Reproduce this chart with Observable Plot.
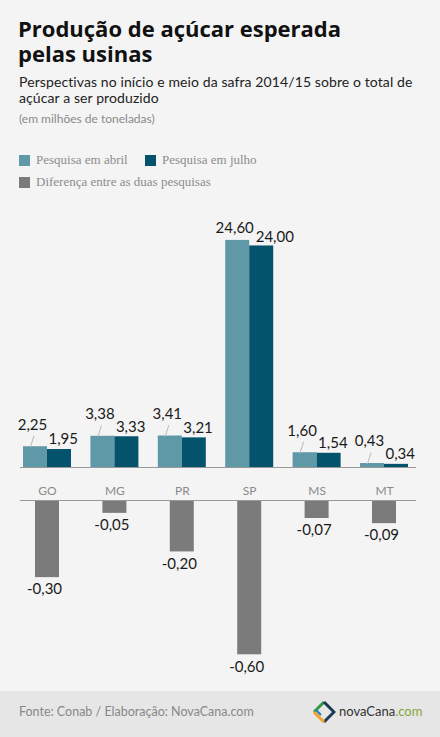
<!DOCTYPE html>
<html>
<head>
<meta charset="utf-8">
<script src="https://cdn.jsdelivr.net/npm/d3@7"></script>
<script src="https://cdn.jsdelivr.net/npm/@observablehq/plot@0.6"></script>
<style>
  html, body { margin: 0; padding: 0; }
  body { width: 440px; height: 737px; background: #f4f4f4; position: relative; overflow: hidden; font-family: Lato, "Open Sans", sans-serif; }
  .abs { position: absolute; }
  .title { left: 18px; font-family: "Open Sans", sans-serif; font-size: 22px; line-height: 24px; font-weight: 700; color: #111; white-space: nowrap; }
  #subtitle { left: 19px; top: 74px; font-size: 14px; line-height: 16px; color: #222; width: 415px; letter-spacing: 0.1px; }
  #unit { left: 19px; top: 112px; font-size: 12px; line-height: 14px; color: #8a8a8a; }
  .leg { font-family: "Liberation Serif", serif; font-size: 13px; color: #8c8c8c; display: flex; align-items: center; }
  .sw { width: 11px; height: 11px; display: inline-block; margin-right: 6px; }
  #footer { left: 0; top: 691px; width: 440px; height: 46px; background: #e6e6e6; }
  #source { left: 19px; top: 704px; font-size: 12.5px; line-height: 16px; color: #888; }
  #logotext { left: 339px; top: 703px; font-size: 13px; line-height: 16px; color: #333; font-family: Lato, sans-serif; }
</style>
</head>
<body>
<div class="abs title" style="top:16px;">Produção de açúcar esperada</div>
<div class="abs title" style="top:41px;">pelas usinas</div>
<div id="subtitle" class="abs">Perspectivas no início e meio da safra 2014/15 sobre o total de açúcar a ser produzido</div>
<div id="unit" class="abs">(em milhões de toneladas)</div>
<div class="abs leg" style="left:19px; top:152px;"><span class="sw" style="background:#5f98a6"></span>Pesquisa em abril</div>
<div class="abs leg" style="left:145px; top:152px;"><span class="sw" style="background:#03536d"></span>Pesquisa em julho</div>
<div class="abs leg" style="left:19px; top:174px;"><span class="sw" style="background:#7b7b7b"></span>Diferença entre as duas pesquisas</div>
<div id="chartTop" class="abs" style="left:0; top:200px;"></div>
<div id="chartBottom" class="abs" style="left:0; top:470px;"></div>
<div id="footer" class="abs"></div>
<div id="source" class="abs">Fonte: Conab / Elaboração: NovaCana.com</div>
<svg class="abs" style="left:312px; top:700px;" width="24" height="24" viewBox="0 0 24 24">
  <polyline points="2,12 12,2" fill="none" stroke="#2e9a48" stroke-width="3"/>
  <polyline points="12,2 22,12 12,22" fill="none" stroke="#1c3a57" stroke-width="3"/>
  <polyline points="12,22 2,12" fill="none" stroke="#f2a12a" stroke-width="3"/>
  <polyline points="4,10 9,15" fill="none" stroke="#1a7fc1" stroke-width="2"/>
</svg>
<div id="logotext" class="abs">novaCana<span style="color:#8aa33a">.com</span></div>
<script>
const cats = ["GO", "MG", "PR", "SP", "MS", "MT"];
const abril = [2.25, 3.38, 3.41, 24.60, 1.60, 0.43];
const julho = [1.95, 3.33, 3.21, 24.00, 1.54, 0.34];
const diferenca = [-0.30, -0.05, -0.20, -0.60, -0.07, -0.09];

const data = cats.map((c, i) => ({cat: c, abril: abril[i], julho: julho[i], diff: diferenca[i]}));
const fmt = v => v.toFixed(2).replace(".", ",");
const C_ABR = "#5f98a6", C_JUL = "#03536d", C_DIF = "#7b7b7b";

const xOpts = {type: "band", domain: cats, range: [23, 408], paddingInner: 0.288, paddingOuter: 0, round: false, axis: null};
const labelStyle = {fontSize: 15, fill: "#1a1a1a", fontFamily: "Lato, sans-serif"};
const notSP = data.filter(d => d.cat !== "SP");
const sp = data.filter(d => d.cat === "SP");

const plotTop = Plot.plot({
  width: 440, height: 270,
  marginTop: 27, marginBottom: 3, marginLeft: 20, marginRight: 24,
  x: xOpts,
  y: {domain: [0, 26], axis: null},
  style: {background: "transparent", overflow: "visible"},
  marks: [
    Plot.barY(data, {x: "cat", y: "abril", fill: C_ABR, insetRight: 24}),
    Plot.barY(data, {x: "cat", y: "julho", fill: C_JUL, insetLeft: 24}),
    Plot.ruleY([0], {stroke: "#999", strokeWidth: 1}),
    Plot.vector(notSP, {x: "cat", y: "abril", dx: -17, length: 11, rotate: 18, anchor: "start", r: 0, stroke: "#bbb", strokeWidth: 1}),
    Plot.text(notSP, {x: "cat", y: "abril", text: d => fmt(d.abril), dx: -15, dy: -22, ...labelStyle}),
    Plot.text(sp, {x: "cat", y: "abril", text: d => fmt(d.abril), dx: -15, dy: -12, ...labelStyle}),
    Plot.text(notSP, {x: "cat", y: "julho", text: d => fmt(d.julho), textAnchor: "start", dx: 1, dy: -10, ...labelStyle}),
    Plot.text(sp, {x: "cat", y: "julho", text: d => fmt(d.julho), textAnchor: "start", dx: 6, dy: -9, ...labelStyle})
  ]
});
document.getElementById("chartTop").appendChild(plotTop);

const plotBottom = Plot.plot({
  width: 440, height: 221,
  marginTop: 30, marginBottom: 11, marginLeft: 20, marginRight: 24,
  x: xOpts,
  y: {domain: [-0.7, 0], axis: null},
  style: {background: "transparent", overflow: "visible"},
  marks: [
    Plot.barY(data, {x: "cat", y: "diff", fill: C_DIF, insetLeft: 12, insetRight: 12}),
    Plot.ruleY([0], {stroke: "#999", strokeWidth: 1}),
    Plot.text(data, {x: "cat", y: "diff", text: d => fmt(d.diff), dx: -3, dy: 12, ...labelStyle}),
    Plot.text(cats, {x: d => d, frameAnchor: "top", dy: -14, text: d => d, fontSize: 12, fill: "#8a8a8a", fontFamily: "Lato, sans-serif"})
  ]
});
document.getElementById("chartBottom").appendChild(plotBottom);
</script>
</body>
</html>
